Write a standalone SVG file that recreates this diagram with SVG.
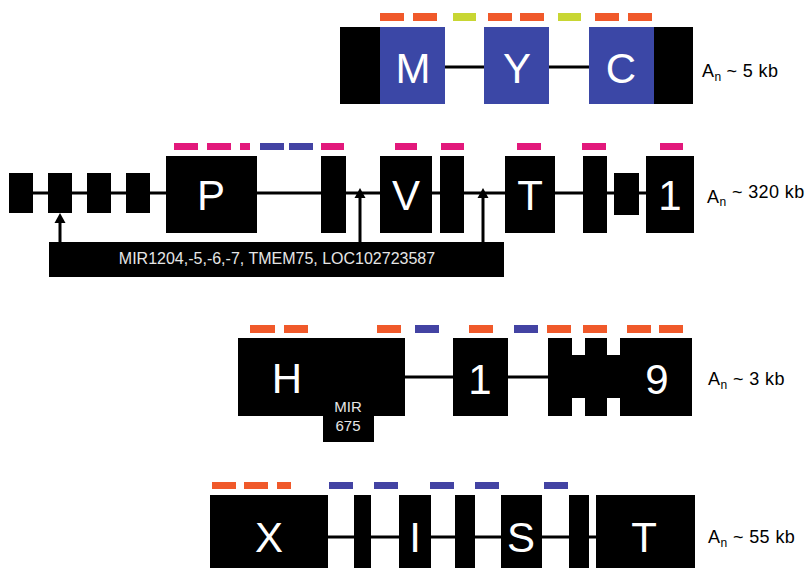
<svg xmlns="http://www.w3.org/2000/svg" width="807" height="568" viewBox="0 0 807 568">
<defs>
<style>
.ex{fill:#000}
.bl{fill:#3b47a6}
.ln{stroke:#000;stroke-width:3;fill:none}
.ar{stroke:#000;stroke-width:3;fill:none}
.big{font-family:"Liberation Sans",Arial,sans-serif;font-size:42px;fill:#fff;text-anchor:middle}
.sm{font-family:"Liberation Sans",Arial,sans-serif;fill:#000;font-size:18px;letter-spacing:0.4px}
.lb{font-family:"Liberation Sans",Arial,sans-serif;fill:#e6e6e6;text-anchor:middle}
.or{fill:#f0592a}
.ye{fill:#c8d633}
.mg{fill:#e2187b}
.bd{fill:#4343a3}
</style>
</defs>
<rect width="807" height="568" fill="#fff"/>

<g id="connectors">
<line class="ln" x1="380" y1="67" x2="654" y2="67"/>
<line class="ln" x1="15" y1="193" x2="680" y2="193"/>
<line class="ln" x1="390" y1="377" x2="560" y2="377"/>
<line class="ln" x1="320" y1="537" x2="610" y2="537"/>
<line class="ar" x1="60" y1="243" x2="60" y2="222"/>
<polygon points="60,213 54.5,223 65.5,223" fill="#000"/>
<line class="ar" x1="360" y1="243" x2="360" y2="197"/>
<polygon points="360,188 354.5,198 365.5,198" fill="#000"/>
<line class="ar" x1="483" y1="243" x2="483" y2="197"/>
<polygon points="483,188 477.5,198 488.5,198" fill="#000"/>
</g>

<g id="MYC">
<rect class="or" x="380" y="13" width="24" height="8"/>
<rect class="or" x="413" y="13" width="24" height="8"/>
<rect class="ye" x="453" y="13" width="23" height="8"/>
<rect class="or" x="488" y="13" width="24" height="8"/>
<rect class="or" x="520" y="13" width="24" height="8"/>
<rect class="ye" x="558" y="13" width="23" height="8"/>
<rect class="or" x="595" y="13" width="24" height="8"/>
<rect class="or" x="628" y="13" width="24" height="8"/>
<rect class="ex" x="340" y="27" width="41" height="77"/>
<rect class="bl" x="380" y="27" width="65" height="77"/>
<rect class="bl" x="484" y="27" width="65" height="77"/>
<rect class="bl" x="589" y="27" width="66" height="77"/>
<rect class="ex" x="654" y="27" width="39" height="77"/>
<text class="big" x="413" y="83">M</text>
<text class="big" x="517" y="83">Y</text>
<text class="big" x="621" y="83">C</text>
<text class="sm" x="702" y="77">A<tspan font-size="12" dy="4">n</tspan><tspan dx="5" dy="-4">~ 5 kb</tspan></text>
</g>

<g id="PVT1">
<rect class="mg" x="174" y="143" width="24" height="7"/>
<rect class="mg" x="207" y="143" width="24" height="7"/>
<rect class="mg" x="240" y="143" width="10" height="7"/>
<rect class="bd" x="260" y="143" width="24" height="7"/>
<rect class="bd" x="289" y="143" width="24" height="7"/>
<rect class="mg" x="321" y="143" width="23" height="7"/>
<rect class="mg" x="395" y="143" width="22" height="7"/>
<rect class="mg" x="441" y="143" width="23" height="7"/>
<rect class="mg" x="517" y="143" width="24" height="7"/>
<rect class="mg" x="582" y="143" width="24" height="7"/>
<rect class="mg" x="660" y="143" width="23" height="7"/>
<rect class="ex" x="9" y="173" width="24" height="40"/>
<rect class="ex" x="48" y="173" width="24" height="40"/>
<rect class="ex" x="87" y="173" width="24" height="40"/>
<rect class="ex" x="126" y="173" width="24" height="40"/>
<rect class="ex" x="166" y="156" width="91" height="77"/>
<rect class="ex" x="321" y="156" width="25" height="77"/>
<rect class="ex" x="380" y="156" width="52" height="77"/>
<rect class="ex" x="440" y="156" width="24" height="77"/>
<rect class="ex" x="505" y="156" width="50" height="77"/>
<rect class="ex" x="583" y="156" width="24" height="77"/>
<rect class="ex" x="614" y="173" width="25" height="42"/>
<rect class="ex" x="646" y="156" width="48" height="77"/>
<text class="big" x="211" y="210">P</text>
<text class="big" x="406" y="210">V</text>
<text class="big" x="530" y="210">T</text>
<text class="big" x="670" y="210">1</text>
<text class="sm" x="707" y="203">A<tspan font-size="12" dy="3">n</tspan><tspan dy="-8"> ~ 320 kb</tspan></text>
</g>

<g id="PVT1-miRNAs">
<rect class="ex" x="49" y="242" width="455" height="35"/>
<text class="lb" x="277" y="264" font-size="16">MIR1204,-5,-6,-7, TMEM75, LOC102723587</text>
</g>

<g id="H19">
<rect class="or" x="250" y="325" width="25" height="8"/>
<rect class="or" x="284" y="325" width="24" height="8"/>
<rect class="or" x="377" y="325" width="24" height="8"/>
<rect class="bd" x="415" y="325" width="24" height="8"/>
<rect class="or" x="469" y="325" width="24" height="8"/>
<rect class="bd" x="514" y="325" width="24" height="8"/>
<rect class="or" x="547" y="325" width="24" height="8"/>
<rect class="or" x="583" y="325" width="24" height="8"/>
<rect class="or" x="627" y="325" width="24" height="8"/>
<rect class="or" x="659" y="325" width="24" height="8"/>
<path class="ex" d="M238,338 H405 V416 H374 V442 H323 V416 H238 Z"/>
<rect class="ex" x="453" y="338" width="55" height="78"/>
<path class="ex" d="M548,338 H572 V355 H585 V338 H607 V355 H620 V338 H692 V416 H620 V398 H607 V416 H585 V398 H572 V416 H548 Z"/>
<text class="big" x="287" y="393" font-size="40">H</text>
<text class="lb" x="348" y="412" font-size="15">MIR</text>
<text class="lb" x="348" y="431" font-size="15">675</text>
<text class="big" x="480" y="394">1</text>
<text class="big" x="657" y="394">9</text>
<text class="sm" x="708" y="385">A<tspan font-size="12" dy="4">n</tspan><tspan dy="-4"> ~ 3 kb</tspan></text>
</g>

<g id="XIST">
<rect class="or" x="212" y="482" width="24" height="7"/>
<rect class="or" x="244" y="482" width="24" height="7"/>
<rect class="or" x="277" y="482" width="14" height="7"/>
<rect class="bd" x="329" y="482" width="24" height="7"/>
<rect class="bd" x="374" y="482" width="24" height="7"/>
<rect class="bd" x="430" y="482" width="24" height="7"/>
<rect class="bd" x="475" y="482" width="24" height="7"/>
<rect class="bd" x="544" y="482" width="24" height="7"/>
<rect class="ex" x="210" y="495" width="118" height="80"/>
<rect class="ex" x="354" y="495" width="17" height="80"/>
<rect class="ex" x="399" y="495" width="32" height="80"/>
<rect class="ex" x="455" y="495" width="20" height="80"/>
<rect class="ex" x="501" y="495" width="41" height="80"/>
<rect class="ex" x="569" y="495" width="20" height="80"/>
<rect class="ex" x="596" y="495" width="99" height="80"/>
<text class="big" x="269" y="552">X</text>
<text class="big" x="415" y="552">I</text>
<text class="big" x="521" y="552">S</text>
<text class="big" x="644" y="552">T</text>
<text class="sm" x="708" y="543">A<tspan font-size="12" dy="4">n</tspan><tspan dy="-4"> ~ 55 kb</tspan></text>
</g>
</svg>
